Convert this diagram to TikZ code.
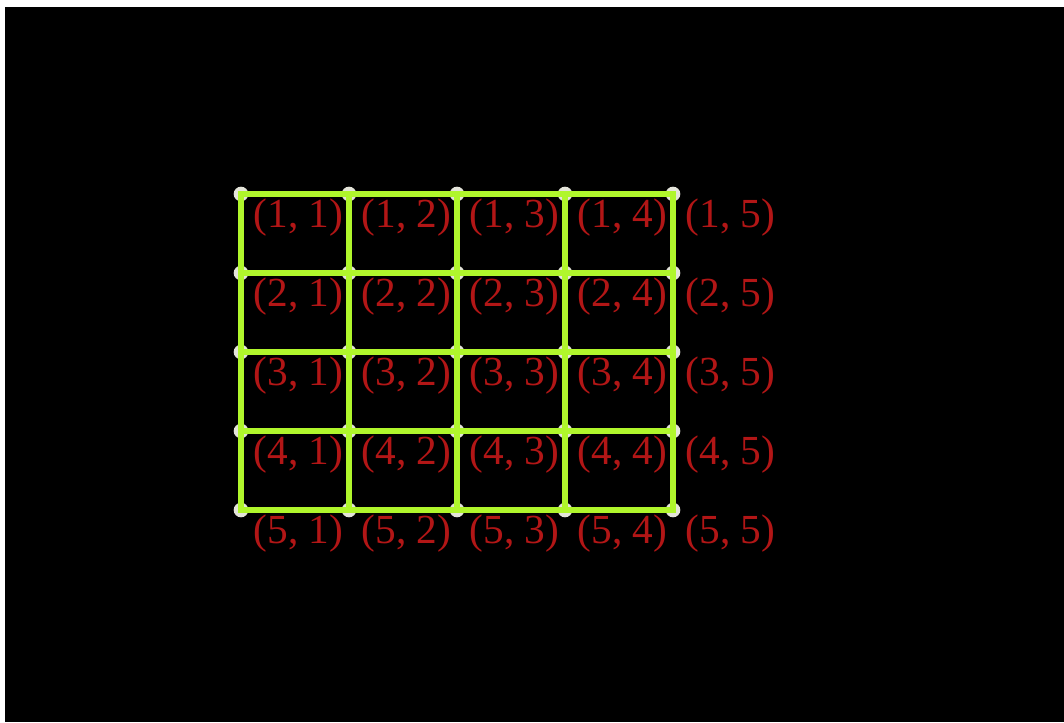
\documentclass[tikz,border=0pt]{standalone}
\usepackage{fontspec}
\setmainfont{Liberation Serif}
\usepackage{tikz}

\definecolor{gridgreen}{RGB}{176,246,44}
\definecolor{labelred}{RGB}{178,22,22}
\definecolor{dotgray}{RGB}{228,228,218}
\tikzset{
  vtx/.style={circle,fill=dotgray,inner sep=0pt,minimum size=11pt},
  gridline/.style={draw=gridgreen,line width=5.2pt,line cap=rect},
  lbl/.style={text=labelred,font=\fontsize{31}{31}\selectfont,inner sep=0pt}
}

\begin{document}
\begin{tikzpicture}[x=0.75pt,y=0.75pt]
\useasboundingbox (0,0) rectangle (1064,722);
\fill[white] (0,0) rectangle (1064,722);
\fill[black] (5,0) rectangle (1064,715);
% vertices
\foreach \i in {1,...,5}
  \foreach \j in {1,...,5}
    \node[vtx] (v-\i-\j) at ({241+108*(\j-1)},{528-79*(\i-1)}) {};
% horizontal and vertical edges
\foreach \i in {1,...,5}
  \foreach \j in {1,...,4}{
    \pgfmathtruncatemacro{\k}{\j+1}
    \draw[gridline] (v-\i-\j.center) -- (v-\i-\k.center);
    \draw[gridline] (v-\j-\i.center) -- (v-\k-\i.center);
  }
% labels
\foreach \i in {1,...,5}
  \foreach \j in {1,...,5}
    \node[lbl] (l-\i-\j) at ([xshift=43pt,yshift=-18pt]v-\i-\j) {(\i, \j)};
\end{tikzpicture}
\end{document}
